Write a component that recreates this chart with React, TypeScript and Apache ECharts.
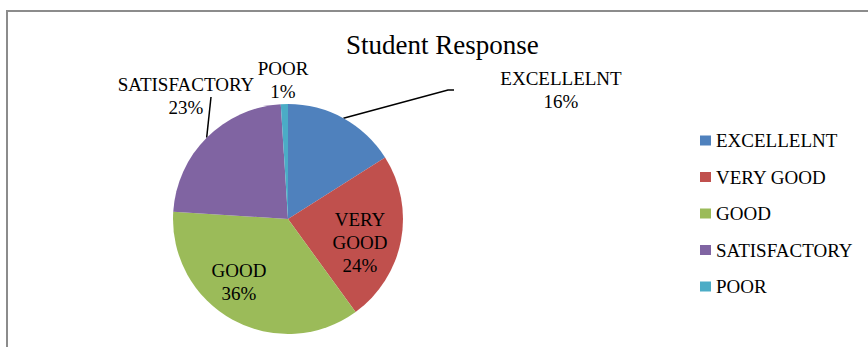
import { useEffect, useRef } from "react";
import * as echarts from "echarts";

const categories = ["EXCELLELNT", "VERY GOOD", "GOOD", "SATISFACTORY", "POOR"];
const labelNames = ["EXCELLELNT", "VERY\nGOOD", "GOOD", "SATISFACTORY", "POOR"];
const values = [16, 24, 36, 23, 1];
const colors = ["#4F81BD", "#C0504D", "#9BBB59", "#8064A2", "#4BACC6"];
const titleText = "Student Response";

const FONT = "'Liberation Serif', 'Times New Roman', serif";
const CX = 288;
const CY = 219;
const R = 115;

// label anchor positions (layout only)
const labelPos: Record<number, [number, number]> = {
  0: [561, 90],
  1: [360, 242],
  2: [239, 282],
  3: [186, 96],
  4: [283, 80],
};

function midPoint(i: number): [number, number] {
  const total = values.reduce((a, b) => a + b, 0);
  let cum = 0;
  for (let k = 0; k < i; k++) cum += values[k];
  const mid = ((cum + values[i] / 2) / total) * Math.PI * 2;
  return [CX + R * Math.sin(mid), CY - R * Math.cos(mid)];
}

export default function App() {
  const ref = useRef<HTMLDivElement>(null);
  useEffect(() => {
    if (!ref.current) return;
    const chart = echarts.init(ref.current, undefined, { renderer: "svg" });
    chart.setOption({
      animation: false,
      backgroundColor: "#ffffff",
      title: {
        text: titleText,
        left: 346,
        top: 31,
        padding: 0,
        textStyle: { fontFamily: FONT, fontSize: 27, fontWeight: "normal", color: "#000" },
      },
      legend: {
        orient: "vertical",
        left: 695,
        top: 125,
        itemWidth: 11,
        itemHeight: 10,
        itemGap: 15.5,
        icon: "rect",
        data: categories,
        textStyle: { fontFamily: FONT, fontSize: 19, color: "#000", lineHeight: 21 },
      },
      graphic: [
        {
          type: "rect",
          shape: { x: 7, y: 11, width: 1000, height: 1000 },
          style: { fill: "none", stroke: "#8c8c8c", lineWidth: 2 },
          silent: true,
        },
      ],
      series: [
        {
          type: "pie",
          center: [CX, CY],
          radius: R,
          startAngle: 90,
          clockwise: true,
          color: colors,
          data: categories.map((c, i) => ({
            name: c,
            value: values[i],
            labelLine: { show: i === 0 || i === 3 },
          })),
          label: {
            show: true,
            position: "outside",
            fontFamily: FONT,
            fontSize: 19,
            lineHeight: 23,
            color: "#000",
            align: "center",
            formatter: (p: any) => `${labelNames[p.dataIndex]}\n${Math.round(p.percent)}%`,
          },
          labelLine: {
            lineStyle: { color: "#000", width: 1.5 },
          },
          labelLayout: (p: any) => {
            const i = p.dataIndex;
            const [x, y] = labelPos[i];
            const out: any = { x, y, align: "center", verticalAlign: "middle" };
            const s = midPoint(i);
            if (i === 0) {
              out.labelLinePoints = [s, [x - 113, y], [x - 107, y]];
            } else if (i === 3) {
              out.labelLinePoints = [s, [x + 25, y + 1], [x + 25, y + 1]];
            }
            return out;
          },
        },
      ],
    });
    return () => chart.dispose();
  }, []);
  return (
    <div
      ref={ref}
      style={{ position: "fixed", left: 0, top: 0, width: 868, height: 347 }}
    />
  );
}
